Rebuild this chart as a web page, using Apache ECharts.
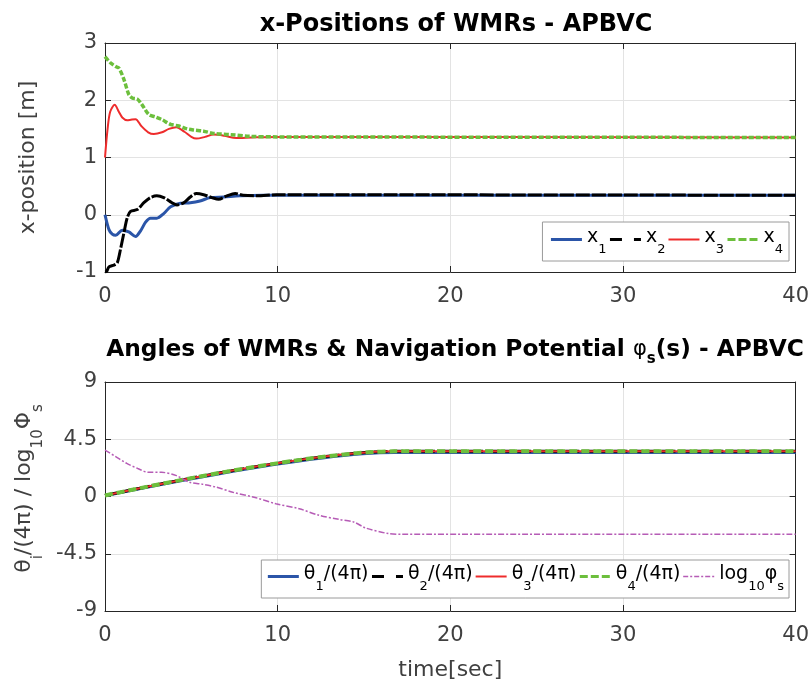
<!DOCTYPE html>
<html>
<head>
<meta charset="utf-8">
<script src="https://cdn.jsdelivr.net/npm/echarts@6/dist/echarts.min.js"></script>
<style>
  html, body { margin: 0; padding: 0; background: #fff; }
  #chart { width: 812px; height: 687px; }
</style>
</head>
<body>
<div id="chart"></div>
<script>
// ---- data ----
var xTicks = [0, 10, 20, 30, 40];

// x-positions (top panel)
var tX1 = [0, 0.23, 0.42, 0.62, 1.0, 1.38, 1.77, 2.06, 2.35, 2.63, 3.0, 3.4, 3.8, 4.37, 4.94, 5.5, 6.1, 6.87, 7.8, 9.2, 40];
var x1  = [0, -0.26, -0.34, -0.36, -0.27, -0.30, -0.38, -0.28, -0.13, -0.06, -0.06, 0.02, 0.14, 0.20, 0.21, 0.24, 0.30, 0.31, 0.33, 0.34, 0.34];

var tX2 = [0, 0.1, 0.23, 0.52, 0.71, 0.9, 1.1, 1.29, 1.48, 1.87, 2.25, 2.63, 3.0, 3.4, 3.88, 4.17, 4.56, 4.94, 5.29, 5.71, 6.19, 6.58, 7.06, 7.54, 8.0, 8.8, 9.94, 40];
var x2  = [-1, -0.99, -0.91, -0.88, -0.84, -0.6, -0.31, -0.05, 0.06, 0.09, 0.21, 0.30, 0.33, 0.30, 0.21, 0.17, 0.21, 0.31, 0.37, 0.35, 0.30, 0.27, 0.33, 0.37, 0.34, 0.33, 0.35, 0.34];

var tX3 = [0, 0.15, 0.3, 0.56, 0.8, 1.0, 1.29, 1.5, 1.77, 2.1, 2.5, 2.83, 3.3, 3.7, 4.13, 4.6, 5.0, 5.29, 5.8, 6.29, 6.9, 7.6, 8.5, 10, 40];
var x3  = [1.0, 1.5, 1.8, 1.92, 1.8, 1.7, 1.65, 1.66, 1.67, 1.55, 1.44, 1.41, 1.44, 1.50, 1.53, 1.45, 1.36, 1.33, 1.36, 1.40, 1.38, 1.34, 1.35, 1.36, 1.35];

var tX4 = [0, 0.33, 0.62, 0.81, 1.1, 1.38, 1.58, 1.87, 2.15, 2.54, 2.92, 3.31, 3.79, 4.27, 4.75, 5.13, 5.71, 6.29, 7.25, 8.4, 9.94, 40];
var x4  = [2.76, 2.65, 2.59, 2.56, 2.36, 2.10, 2.04, 2.02, 1.92, 1.75, 1.71, 1.66, 1.58, 1.55, 1.50, 1.48, 1.46, 1.42, 1.40, 1.37, 1.36, 1.35];

// angles and potential (bottom panel)
var tTh = [0, 16.75, 40];
var th1 = [0.06, 3.45, 3.45];
var th2 = [0.08, 3.55, 3.55];
var th3 = [0.08, 3.55, 3.55];
var th4 = [0.08, 3.55, 3.55];

var tPhi = [0, 0.6, 1.26, 1.9, 2.5, 3.28, 4.14, 4.9, 5.7, 6.45, 7.4, 8.75, 9.9, 11.25, 12.4, 13.55, 14.4, 15.1, 16.44, 17.2, 40];
var phi  = [3.65, 3.15, 2.6, 2.2, 1.9, 1.9, 1.64, 1.12, 0.95, 0.73, 0.34, -0.1, -0.57, -0.96, -1.48, -1.8, -2.0, -2.48, -2.92, -2.97, -2.97];

var blue = '#2b55a8', red = '#ee2c2c', green = '#6cbf3c', black = '#000000', magenta = '#b65cb6';

function pairs(t, v) {
    var out = [];
    for (var i = 0; i < t.length; i++) out.push([t[i], v[i]]);
    return out;
}

var font = 'DejaVu Sans, Liberation Sans, Arial, sans-serif';
var axisColor = '#262626';
var labelColor = '#404040';

function xAx(grid, bottom) {
    return {
        type: 'value', gridIndex: grid, min: 0, max: 40, interval: 10,
        position: bottom ? 'bottom' : 'top',
        axisLine: { show: true, onZero: false, lineStyle: { color: axisColor, width: 1 } },
        axisTick: { show: true, inside: true, length: 6, lineStyle: { color: axisColor } },
        axisLabel: { show: bottom, color: labelColor, fontSize: 21, fontFamily: font, margin: 14 },
        splitLine: { show: bottom, lineStyle: { color: '#e3e3e3', width: 1 } }
    };
}
function yAx(grid, left, min, max, interval) {
    return {
        type: 'value', gridIndex: grid, min: min, max: max, interval: interval,
        position: left ? 'left' : 'right',
        axisLine: { show: true, onZero: false, lineStyle: { color: axisColor, width: 1 } },
        axisTick: { show: true, inside: true, length: 6, lineStyle: { color: axisColor } },
        axisLabel: { show: left, color: labelColor, fontSize: 21, fontFamily: font, margin: 8 },
        splitLine: { show: left, lineStyle: { color: '#e3e3e3', width: 1 } }
    };
}

var rich = {
    n: { fontSize: 19, fontFamily: font, color: '#000', padding: [0, 0, 4, 0] },
    s: { fontSize: 13, fontFamily: font, color: '#000', padding: [20, 0, 0, 0] }
};
var legendNames = {
    'x1': '{n|x}{s|1}', 'x2': '{n|x}{s|2}', 'x3': '{n|x}{s|3}', 'x4': '{n|x}{s|4}',
    't1': '{n|θ}{s|1}{n|/(4π)}', 't2': '{n|θ}{s|2}{n|/(4π)}', 't3': '{n|θ}{s|3}{n|/(4π)}', 't4': '{n|θ}{s|4}{n|/(4π)}',
    'phi': '{n|log}{s|10}{n|φ}{s|s}'
};
// legend icons use MATLAB-like dash patterns
var legendDash = {
    'x1': 'solid', 'x2': [12, 12], 'x3': 'solid', 'x4': [8, 3],
    't1': 'solid', 't2': [12, 12], 't3': 'solid', 't4': [8, 3], 'phi': [5, 2, 2, 2]
};
var legendWidth = { 'x3': 2, 't3': 2, 'phi': 1.5 };

function legendData(names) {
    return names.map(function (n) {
        return { name: n, lineStyle: { type: legendDash[n], width: legendWidth[n] || 3 } };
    });
}

function line(name, t, v, color, width, type, grid) {
    return {
        name: name, type: 'line', xAxisIndex: grid * 2, yAxisIndex: grid * 2,
        data: pairs(t, v), symbol: 'none', smooth: 0.3,
        lineStyle: { color: color, width: width, type: type },
        itemStyle: { color: color }
    };
}

function legend(names, top, pad) {
    return {
        data: legendData(names), right: 23, top: top, orient: 'horizontal',
        itemWidth: 31, itemHeight: 14, itemGap: 2, padding: pad,
        backgroundColor: '#fff', borderColor: '#9a9a9a', borderWidth: 1, borderRadius: 0,
        itemStyle: { opacity: 0 },
        formatter: function (n) { return legendNames[n]; },
        textStyle: { rich: rich }
    };
}

var chart = echarts.init(document.getElementById('chart'));
var option = {
    animation: false,
    backgroundColor: '#fff',
    title: [
        { text: 'x-Positions of WMRs - APBVC', left: 451, top: 8, textAlign: 'center',
          textStyle: { fontSize: 24, fontWeight: 'bold', fontFamily: font, color: '#000' } },
        { text: '{b|Angles of WMRs & Navigation Potential }{p|φ}{ps|s}{b|(s) - APBVC}', left: 450, top: 329, textAlign: 'center',
          textStyle: { fontSize: 23.3, fontWeight: 'bold', fontFamily: font, color: '#000',
            rich: {
                p: { fontSize: 21, fontWeight: 'normal', fontFamily: font, color: '#000', padding: [0, 0, 2, 0] },
                ps: { fontSize: 15, fontWeight: 'bold', fontFamily: font, color: '#000', padding: [18, 0, 0, 0] },
                b: { fontSize: 23.3, fontWeight: 'bold', fontFamily: font, color: '#000', padding: [0, 0, 2, 0] }
            } } }
    ],
    grid: [
        { left: 105, right: 14, top: 43, height: 229 },
        { left: 105, right: 14, top: 382, height: 229 }
    ],
    xAxis: [
        xAx(0, true), xAx(0, false),
        Object.assign(xAx(1, true), {
            name: 'time[sec]', nameLocation: 'middle', nameGap: 48,
            nameTextStyle: { fontSize: 22, fontFamily: font, color: labelColor }
        }),
        xAx(1, false)
    ],
    yAxis: [
        Object.assign(yAx(0, true, -1, 3, 1), {
            name: 'x-position [m]', nameLocation: 'middle', nameGap: 66, nameRotate: 90,
            nameTextStyle: { fontSize: 22, fontFamily: font, color: labelColor }
        }),
        yAx(0, false, -1, 3, 1),
        Object.assign(yAx(1, true, -9, 9, 4.5), {
            name: '{n|θ}{s|i}{n|/(4π) / log}{s|10}{n|Φ}{s|s}', nameLocation: 'middle', nameGap: 55, nameRotate: 90,
            nameTextStyle: { padding: [0, 0, 0, 16], rich: {
                n: { fontSize: 22, fontFamily: font, color: labelColor, padding: [0, 0, 4, 0] },
                s: { fontSize: 15, fontFamily: font, color: labelColor, padding: [22, 0, 0, 0] }
            } }
        }),
        yAx(1, false, -9, 9, 4.5)
    ],
    legend: [
        legend(['x1', 'x2', 'x3', 'x4'], 222, [6, 6, 5, 7]),
        legend(['t1', 't2', 't3', 't4', 'phi'], 560, [5, 5, 5, 5])
    ],
    series: [
        line('x1', tX1, x1, blue, 3, 'solid', 0),
        line('x2', tX2, x2, black, 3, [14, 2], 0),
        line('x3', tX3, x3, red, 2, 'solid', 0),
        line('x4', tX4, x4, green, 3.5, [5, 2], 0),
        line('t1', tTh, th1, blue, 3, 'solid', 1),
        line('t2', tTh, th2, black, 3, [14, 2], 1),
        line('t3', tTh, th3, red, 2, 'solid', 1),
        line('t4', tTh, th4, green, 4, [8, 4], 1),
        line('phi', tPhi, phi, magenta, 1.5, [6, 2, 2, 2], 1)
    ]
};
chart.setOption(option);
</script>
</body>
</html>
